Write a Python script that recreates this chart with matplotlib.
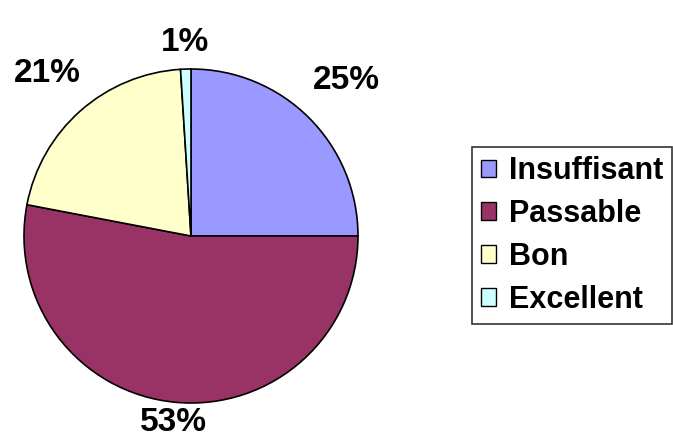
import numpy as np
import matplotlib.pyplot as plt

categories = ['Insuffisant', 'Passable', 'Bon', 'Excellent']
shares = [25, 53, 21, 1]
colors = ['#9999ff', '#993366', '#ffffcc', '#ccffff']
# how far out each percentage sits, in pie radii
label_radius = [1.32, 1.12, 1.30, 1.16]

plt.rcParams['font.family'] = ['Liberation Sans', 'DejaVu Sans']

fig = plt.figure(figsize=(6.73, 4.46), dpi=100)
ax = fig.add_axes([24 / 673, 43 / 446, 334 / 673, 334 / 446])

wedges, _ = ax.pie(shares, colors=colors, startangle=90, counterclock=False,
                   radius=1.0, wedgeprops=dict(edgecolor='black', linewidth=1.2))
ax.set_xlim(-1, 1)
ax.set_ylim(-1, 1)
ax.set_aspect('equal')
ax.axis('off')

for w, val, r in zip(wedges, shares, label_radius):
    mid = np.deg2rad((w.theta1 + w.theta2) / 2)
    ax.text(r * np.cos(mid), r * np.sin(mid), f'{val}%', ha='center', va='center',
            fontsize=24, fontweight='bold', clip_on=False)

leg = fig.legend(wedges, categories, loc='upper left',
                 bbox_to_anchor=(472 / 673, 1 - 147 / 446),
                 prop=dict(size=22, weight='bold'), frameon=True, fancybox=False,
                 edgecolor='black', handlelength=0.5, handleheight=0.5,
                 handletextpad=0.4, labelspacing=0.42, borderpad=0.3,
                 borderaxespad=0)
leg.get_frame().set_linewidth(1.2)
for h in leg.legend_handles:
    h.set_edgecolor('black')
    h.set_linewidth(1.0)

fig.savefig('out.png', dpi=100)
